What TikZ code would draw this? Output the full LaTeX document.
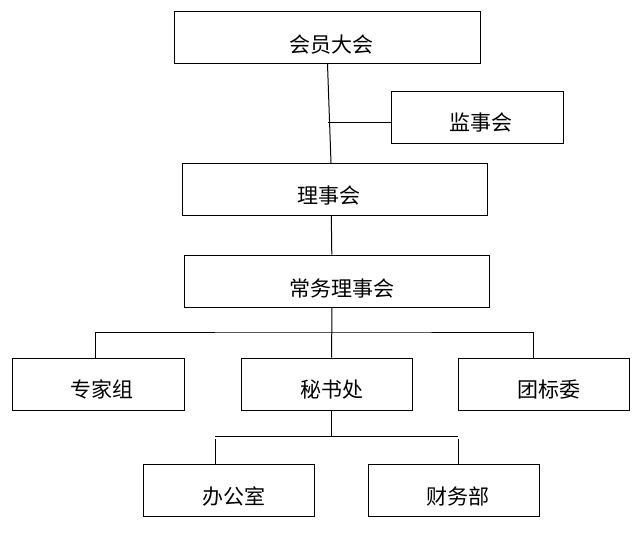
\documentclass[tikz,border=0pt]{standalone}
\usepackage{fontspec}
\newfontfamily\cjk{Noto Sans CJK SC}
\usetikzlibrary{calc}
\begin{document}
\begin{tikzpicture}[x=1pt,y=-1pt,
  box/.style={draw=black, line width=1pt, rectangle, inner sep=0pt, fill=white},
  lbl/.style={font=\cjk\fontsize{21}{25}\selectfont, inner sep=0pt},
  conn/.style={draw=black, line width=1pt}]
\useasboundingbox (0,0) rectangle (643,535);
\fill[white] (0,0) rectangle (643,535);
% boxes
\node[box, minimum width=306, minimum height=52, label={[lbl, xshift=4, yshift=-7]center:会员大会}] (hy) at (327.5,37.5) {};
\node[box, minimum width=172, minimum height=52, label={[lbl, xshift=3, yshift=-5]center:监事会}] (js) at (477.5,117.3) {};
\node[box, minimum width=305, minimum height=52, label={[lbl, xshift=-6, yshift=-6]center:理事会}] (ls) at (334.8,189.3) {};
\node[box, minimum width=305, minimum height=52, label={[lbl, xshift=5, yshift=-7]center:常务理事会}] (cw) at (336.8,281.2) {};
\node[box, minimum width=172, minimum height=52, label={[lbl, xshift=4, yshift=-5]center:专家组}] (zj) at (98.3,384.2) {};
\node[box, minimum width=171, minimum height=52, label={[lbl, xshift=5, yshift=-5]center:秘书处}] (ms) at (326.5,384.2) {};
\node[box, minimum width=171, minimum height=52, label={[lbl, xshift=5, yshift=-5]center:团标委}] (tb) at (543.8,384.2) {};
\node[box, minimum width=171, minimum height=52, label={[lbl, xshift=5, yshift=-6]center:办公室}] (bgs) at (228.8,490.3) {};
\node[box, minimum width=171, minimum height=52, label={[lbl, xshift=4, yshift=-6]center:财务部}] (cwb) at (454.3,490.3) {};
% connectors
\draw[conn] (hy.south) -- ([xshift=-3.8]ls.north);
\draw[conn] ([yshift=-5]js.west) -- ++(-63,0);
\draw[conn] ([xshift=-3.5]ls.south) -- ([xshift=-5]cw.north);
\coordinate (bus1) at (331.7,332);
\draw[conn] ([xshift=-5]cw.south) -- ([xshift=5.2]ms.north);
\draw[conn] ([xshift=-3]zj.north) |- (bus1) -| ([xshift=-10.5]tb.north);
\coordinate (bus2) at (331.3,436);
\coordinate (bl) at (215,436);
\coordinate (br) at (458.3,436);
\draw[conn] ([xshift=4.8]ms.south) -- (bus2);
\draw[conn] (bl) -- (br);
\draw[conn] ([xshift=-13]bgs.north) -- ++(0,-25);
\draw[conn] ([xshift=4]cwb.north) -- ++(0,-25);
\end{tikzpicture}
\end{document}
